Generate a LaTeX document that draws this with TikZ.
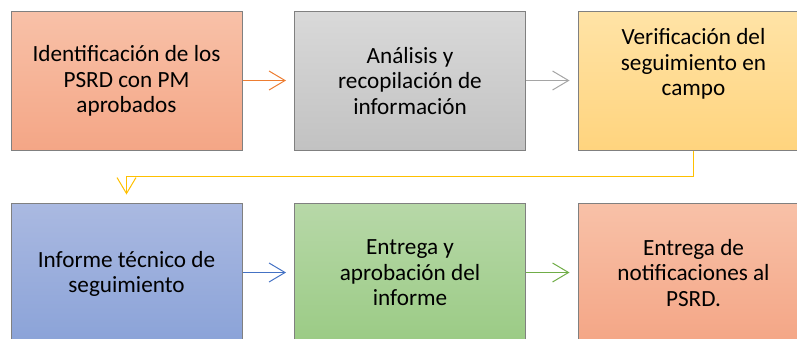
\documentclass[tikz,border=0pt]{standalone}
\usepackage{fontspec}
\setmainfont{Carlito}
\usetikzlibrary{arrows.meta,calc}
\definecolor{bordc}{HTML}{808080}
\definecolor{orTop}{HTML}{F8C1A8}
\definecolor{orBot}{HTML}{F4A686}
\definecolor{grTop}{HTML}{D9D9D9}
\definecolor{grBot}{HTML}{C2C2C2}
\definecolor{yeTop}{HTML}{FFE3A6}
\definecolor{yeBot}{HTML}{FFD47E}
\definecolor{blTop}{HTML}{AAB9E1}
\definecolor{blBot}{HTML}{8BA3D8}
\definecolor{gnTop}{HTML}{B7D8A8}
\definecolor{gnBot}{HTML}{9BCB85}
\definecolor{aOr}{HTML}{ED7D31}
\definecolor{aGr}{HTML}{A5A5A5}
\definecolor{aYe}{HTML}{FFC000}
\definecolor{aBl}{HTML}{4472C4}
\definecolor{aGn}{HTML}{70AD47}
\tikzset{
  procbox/.style={draw=bordc, line width=1pt, minimum width=231pt, minimum height=139pt, inner sep=0pt, shading=axis, shading angle=0},
  boxtext/.style={font=\fontsize{23.2}{25.5}\selectfont, align=center, inner sep=0pt, text=black},
  flow/.style={line width=1pt, -{Straight Barb[length=16pt, width=19pt, line width=1pt]}}
}
\begin{document}
\begin{tikzpicture}[x=1pt,y=-1pt]
\useasboundingbox (0,0) rectangle (797,338);
\clip (0,0) rectangle (797,338);
% row 1
\node[procbox, top color=orTop, bottom color=orBot] (b1) at (126.5,80.5) {};
\node[procbox, top color=grTop, bottom color=grBot] (b2) at (410,80.5) {};
\node[procbox, top color=yeTop, bottom color=yeBot] (b3) at (693.5,80.5) {};
% row 2
\node[procbox, top color=blTop, bottom color=blBot] (b4) at (126.5,272.5) {};
\node[procbox, top color=gnTop, bottom color=gnBot] (b5) at (410,272.5) {};
\node[procbox, top color=orTop, bottom color=orBot] (b6) at (693.5,272.5) {};
% texts
\node[boxtext] (t1) at (126.5,81) {Identificación de los\\PSRD con PM\\aprobados};
\node[boxtext] (t2) at (410,81) {Análisis y\\recopilación de\\información};
\node[boxtext] (t3) at (693.5,64) {Verificación del\\seguimiento en\\campo};
\node[boxtext] (t4) at (126.5,274) {Informe técnico de\\seguimiento};
\node[boxtext] (t5) at (410,273) {Entrega y\\aprobación del\\informe};
\node[boxtext] (t6) at (693.5,273) {Entrega de\\notificaciones al\\PSRD.};
% connectors
\coordinate (e1) at ($(b2.west)+(-8,0)$);
\coordinate (e2) at ($(b3.west)+(-8,0)$);
\coordinate (e4) at ($(b5.west)+(-8,0)$);
\coordinate (e5) at ($(b6.west)+(-8,0)$);
\coordinate (e3) at ($(b4.north)+(0,-8)$);
\draw[flow, draw=aOr] (b1.east) -- (e1);
\draw[flow, draw=aGr] (b2.east) -- (e2);
\draw[flow, draw=aYe] (b3.south) -- ++(0,26) -| (e3);
\draw[flow, draw=aBl] (b4.east) -- (e4);
\draw[flow, draw=aGn] (b5.east) -- (e5);
\end{tikzpicture}
\end{document}
